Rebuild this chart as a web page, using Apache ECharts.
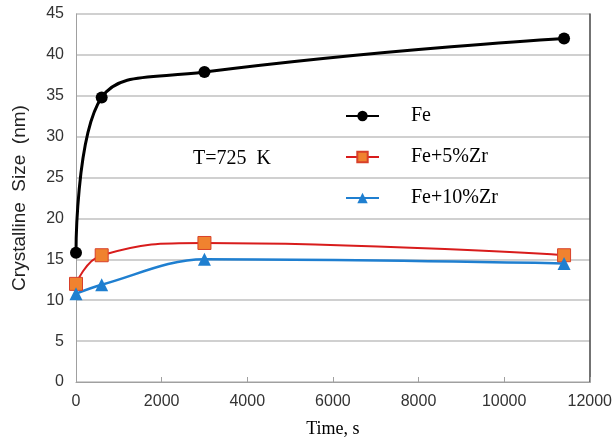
<!DOCTYPE html>
<html>
<head>
<meta charset="utf-8">
<script src="https://cdn.jsdelivr.net/npm/echarts@6/dist/echarts.min.js"></script>
<style>
html,body{margin:0;padding:0;background:#fff;}
#chart{width:615px;height:444px;}
</style>
</head>
<body>
<div id="chart"></div>
<script>
const timeS = [0, 600, 3000, 11400];
const feSize = [15.8, 34.8, 37.9, 42];
const fe5ZrSize = [12, 15.5, 17, 15.5];
const fe10ZrSize = [10.8, 11.9, 15, 14.5];
const seriesNames = ['Fe', 'Fe+5%Zr', 'Fe+10%Zr'];
const xTitle = 'Time, s';
const yTitle = 'Crystalline  Size  (nm)';
const annotation = 'T=725  K';

function pairs(ys) { return timeS.map((t, i) => [t, ys[i]]); }

const chart = echarts.init(document.getElementById('chart'), null, {renderer: 'canvas'});
const sans = 'Liberation Sans';
const serif = 'Liberation Serif';

chart.setOption({
  animation: false,
  backgroundColor: '#ffffff',
  grid: {left: 76, right: 25, top: 14, bottom: 62, show: false},
  xAxis: {
    type: 'value', min: 0, max: 12000, interval: 2000,
    name: xTitle, nameLocation: 'middle', nameGap: 38,
    nameTextStyle: {fontFamily: serif, fontSize: 18, color: '#000'},
    axisLine: {show: true, lineStyle: {color: '#a0a0a0', width: 1}},
    axisTick: {show: true, inside: true, length: 5, lineStyle: {color: '#a0a0a0'}},
    axisLabel: {fontFamily: sans, fontSize: 16, color: '#333', margin: 12,
      formatter: v => String(v)},
    splitLine: {show: false}
  },
  yAxis: [{
    type: 'value', min: 0, max: 45, interval: 5,
    name: yTitle, nameLocation: 'middle', nameGap: 47, nameRotate: 90,
    nameTextStyle: {fontFamily: sans, fontSize: 19, color: '#222'},
    axisLine: {show: true, lineStyle: {color: '#a0a0a0', width: 1}},
    axisTick: {show: false},
    axisLabel: {fontFamily: sans, fontSize: 16, color: '#333', margin: 12},
    splitLine: {show: true, lineStyle: {color: '#c0c0c0', width: 1.5}}
  }, {
    type: 'value', min: 0, max: 45, interval: 5, position: 'right',
    axisLine: {show: true, lineStyle: {color: '#444', width: 1.5}},
    axisTick: {show: false}, axisLabel: {show: false}, splitLine: {show: false}
  }],
  legend: {
    orient: 'vertical', left: 340, top: 101,
    itemWidth: 33, itemHeight: 13, itemGap: 21,
    textStyle: {fontFamily: serif, fontSize: 20, color: '#000', padding: [0, 0, 0, 27]},
    data: seriesNames
  },
  graphic: [{
    type: 'text', left: 193, top: 149,
    style: {text: annotation, font: '20px "Liberation Serif"', fill: '#000'}
  }],
  series: [{
    name: seriesNames[0], type: 'line', smooth: 0.5,
    data: pairs(feSize),
    symbol: 'circle', symbolSize: 12,
    lineStyle: {color: '#000', width: 3},
    itemStyle: {color: '#000'}
  }, {
    name: seriesNames[1], type: 'line', smooth: 0.45,
    data: pairs(fe5ZrSize),
    symbol: 'rect', symbolSize: 13,
    lineStyle: {color: '#d81c1c', width: 2},
    itemStyle: {color: '#f0822f', borderColor: '#d8402a', borderWidth: 1}
  }, {
    name: seriesNames[2], type: 'line', smooth: 0.35,
    data: pairs(fe10ZrSize),
    symbol: 'triangle', symbolSize: 13,
    lineStyle: {color: '#1f7fd0', width: 2.5},
    itemStyle: {color: '#1f7fd0'}
  }]
});
</script>
</body>
</html>
